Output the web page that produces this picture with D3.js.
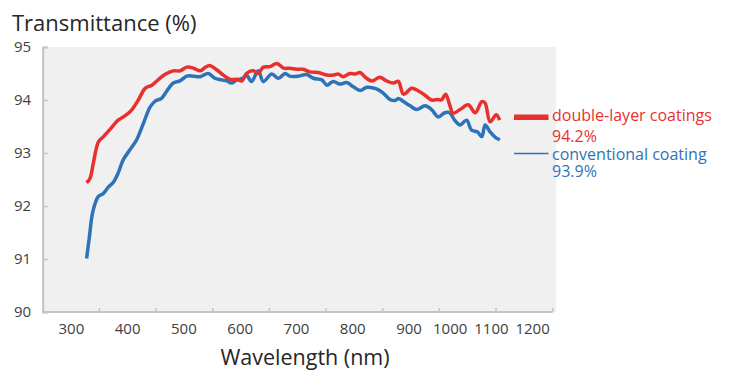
<!DOCTYPE html>
<html><head><meta charset="utf-8">
<script src="https://cdn.jsdelivr.net/npm/d3@7/dist/d3.min.js"></script>
<style>
html,body{margin:0;padding:0;background:#fff;}
svg{display:block;font-family:"Open Sans",sans-serif;}
</style></head>
<body><svg id="chart" width="732" height="371"></svg>
<script>
// ---- data ----
const xTickLabels = [300,400,500,600,700,800,900,1000,1100,1200];
const yTickLabels = [90,91,92,93,94,95];
const seriesNames = ["double-layer coatings","conventional coating"];
const seriesAverages = ["94.2%","93.9%"];

const redWl = [328,334,340,349,358,370,384,396,408,420,432,444,455,467,482,494,506,518,530,538,547,559,571,583,595,604,612,624,633,642,654,666,678,689,701,713,725,740,755,766,775,784,796,805,814,823,835,849,861,873,882,891,908,924,940,956,972,980,990,1000,1008,1025,1045,1062,1078,1086,1098,1113,1121];
const redT  = [92.44,92.52,92.81,93.21,93.31,93.45,93.62,93.70,93.81,94.00,94.22,94.28,94.38,94.48,94.55,94.55,94.62,94.60,94.55,94.61,94.65,94.57,94.47,94.39,94.39,94.36,94.50,94.55,94.50,94.62,94.63,94.69,94.60,94.60,94.58,94.58,94.53,94.52,94.47,94.47,94.49,94.44,94.50,94.49,94.52,94.43,94.36,94.43,94.36,94.32,94.35,94.11,94.22,94.17,94.09,94.00,94.01,94.00,94.11,93.91,93.75,93.82,93.91,93.76,93.97,93.94,93.59,93.72,93.62];

const blueWl = [328,333,339,349,357,367,375,384,393,405,417,429,441,450,461,470,482,494,506,518,530,544,556,568,577,586,595,606,612,621,633,642,657,669,681,689,704,719,731,746,755,766,778,790,802,814,826,843,855,867,876,882,891,904,920,940,956,972,988,1000,1012,1025,1041,1053,1067,1078,1086,1098,1110,1122];
const blueT  = [91.01,91.42,91.89,92.18,92.23,92.36,92.44,92.62,92.87,93.06,93.25,93.56,93.87,93.98,94.03,94.16,94.32,94.36,94.45,94.45,94.44,94.50,94.41,94.38,94.36,94.32,94.38,94.41,94.47,94.35,94.55,94.35,94.49,94.41,94.50,94.45,94.45,94.48,94.41,94.38,94.28,94.35,94.30,94.33,94.25,94.18,94.24,94.21,94.13,94.01,93.99,94.03,93.97,93.89,93.82,93.89,93.82,93.68,93.76,93.76,93.62,93.53,93.62,93.43,93.40,93.31,93.53,93.40,93.30,93.25];

const colors = ["#e8312f","#2e72b8"];

// ---- scales ----
const svg = d3.select("#chart");
const x = d3.scaleLinear().domain([250, 900, 1250]).range([42.7, 408.5, 552.7]);
const y = d3.scaleLinear().domain([90, 95]).range([312, 47]);
const tickScale = d3.scaleLinear().domain([0, 9]).range([x(250), x(1250)]);

// plot background
svg.append("rect").attr("x", 42).attr("y", y(95)).attr("width", 556-42)
  .attr("height", y(90)-y(95)).attr("fill", "#f0f0f0");

const axisColor = "#c4c4c4";
// y axis
const gy = svg.append("g").attr("transform", `translate(${x(250)},0)`)
  .call(d3.axisLeft(y).tickValues(yTickLabels).tickFormat(d3.format("d")).tickSize(-5).tickPadding(11.5));
gy.select(".domain").attr("stroke", axisColor).attr("stroke-width", 2);
gy.selectAll(".tick line").attr("stroke", axisColor).attr("stroke-width", 1.5);
gy.selectAll("text").attr("font-size", 15).attr("fill", "#404040").attr("font-family", "Open Sans");

// x axis (labels)
const gx = svg.append("g").attr("transform", `translate(0,${y(90)})`)
  .call(d3.axisBottom(x).tickValues(xTickLabels).tickFormat(d3.format("d")).tickSize(0).tickPadding(11.5));
gx.select(".domain").remove();
gx.selectAll("text").attr("font-size", 15).attr("fill", "#404040").attr("font-family", "Open Sans");
// x axis line and tick marks
svg.append("line").attr("x1", x(250)).attr("x2", x(1250)).attr("y1", y(90)).attr("y2", y(90))
  .attr("stroke", axisColor).attr("stroke-width", 2);
svg.append("g").selectAll("line").data(d3.range(1, 10)).join("line")
  .attr("x1", d => tickScale(d)).attr("x2", d => tickScale(d))
  .attr("y1", y(90)).attr("y2", y(90) - 4)
  .attr("stroke", axisColor).attr("stroke-width", 1.5);

// lines
const line = d3.line().x(d => x(d[0])).y(d => y(d[1])).curve(d3.curveCatmullRom.alpha(0.5));
const redData = d3.zip(redWl, redT);
const blueData = d3.zip(blueWl, blueT);
svg.append("path").datum(blueData).attr("d", line).attr("fill", "none")
  .attr("stroke", colors[1]).attr("stroke-width", 3.5).attr("stroke-linejoin", "round");
svg.append("path").datum(redData).attr("d", line).attr("fill", "none")
  .attr("stroke", colors[0]).attr("stroke-width", 3.5).attr("stroke-linejoin", "round");

// legend
const legY = [117.3, 153.5];
const legWidths = [5.5, 1.5];
seriesNames.forEach((name, i) => {
  svg.append("line").attr("x1", 514).attr("x2", 548.5).attr("y1", legY[i]).attr("y2", legY[i])
    .attr("stroke", colors[i]).attr("stroke-width", legWidths[i]);
  svg.append("text").attr("x", 552).attr("y", legY[i] + 3.6 + (i ? 2.5 : 0)).text(name)
    .attr("font-size", 16).attr("fill", colors[i]);
  svg.append("text").attr("x", 552).attr("y", legY[i] + 24.4 + (i ? -1 : 0)).text(seriesAverages[i])
    .attr("font-size", 16).attr("fill", colors[i]);
});

// titles
svg.append("text").attr("x", 12).attr("y", 30.7).text("Transmittance (%)")
  .attr("font-size", 22).attr("fill", "#262626");
svg.append("text").attr("x", 305).attr("y", 365).attr("text-anchor", "middle").text("Wavelength (nm)")
  .attr("font-size", 21.5).attr("fill", "#262626");
</script></body></html>
